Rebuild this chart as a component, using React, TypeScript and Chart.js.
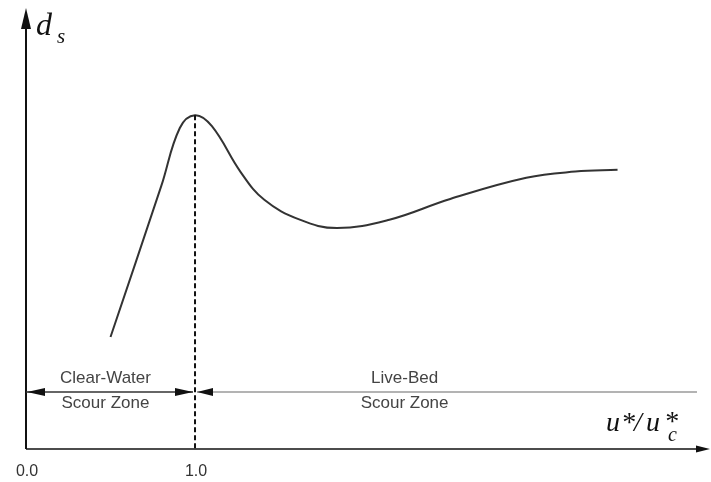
import React, { useEffect, useRef } from "react";
import { Chart, registerables } from "chart.js";

Chart.register(...registerables);

// Curve: scour depth d_s versus u*/u*c
const curveX = [0.5, 0.8, 0.91, 1.0, 1.1, 1.27, 1.41, 1.62, 1.84, 2.15, 2.51, 2.96, 3.25, 3.5];
const curveY = [2.54, 5.96, 7.28, 7.57, 7.32, 6.28, 5.65, 5.2, 5.01, 5.2, 5.67, 6.15, 6.29, 6.33];

// Axis ticks
const tickValues = [0, 1];
const tickLabels = ["0.0", "1.0"];

// Zones
const zoneBoundaryX = 1.0;
const zonePeakY = 7.57;
const zoneLineY = 1.29;
const zoneLineEndX = 3.97;
const zoneNames = [
  ["Clear-Water", "Scour Zone"],
  ["Live-Bed", "Scour Zone"],
];
const zoneLabelX = [0.47, 2.24];

const X_MAX = 4.047;
const Y_MAX = 10;

function arrowHead(ctx: CanvasRenderingContext2D, tipX: number, tipY: number, dir: string, len: number, half: number) {
  ctx.beginPath();
  ctx.moveTo(tipX, tipY);
  if (dir === "up") {
    ctx.lineTo(tipX - half, tipY + len);
    ctx.lineTo(tipX + half, tipY + len);
  } else if (dir === "right") {
    ctx.lineTo(tipX - len, tipY - half);
    ctx.lineTo(tipX - len, tipY + half);
  } else {
    ctx.lineTo(tipX + len, tipY - half);
    ctx.lineTo(tipX + len, tipY + half);
  }
  ctx.closePath();
  ctx.fill();
}

const SERIF = "'Liberation Serif', 'Times New Roman', serif";
const SANS = "'Liberation Sans', Arial, sans-serif";

const decorPlugin = {
  id: "decor",
  afterDatasetsDraw(chart: any) {
    const ctx: CanvasRenderingContext2D = chart.ctx;
    const xs = chart.scales.x;
    const ys = chart.scales.y;
    const x0 = xs.getPixelForValue(0);
    const y0 = ys.getPixelForValue(0);
    const yTop = ys.getPixelForValue(Y_MAX);
    const xRight = xs.getPixelForValue(X_MAX);
    ctx.save();
    ctx.fillStyle = "#111";
    ctx.strokeStyle = "#111";

    // y axis
    ctx.lineWidth = 2;
    ctx.beginPath();
    ctx.moveTo(x0, y0);
    ctx.lineTo(x0, yTop + 14);
    ctx.stroke();
    arrowHead(ctx, x0, yTop, "up", 21, 5);

    // x axis
    ctx.lineWidth = 1.6;
    ctx.beginPath();
    ctx.moveTo(x0, y0);
    ctx.lineTo(xRight - 10, y0);
    ctx.stroke();
    arrowHead(ctx, xRight, y0, "right", 14, 3.5);

    // dashed boundary line at u*/u*c = 1
    const bx = xs.getPixelForValue(zoneBoundaryX);
    const peakY = ys.getPixelForValue(zonePeakY);
    ctx.setLineDash([5, 3]);
    ctx.lineWidth = 2;
    ctx.beginPath();
    ctx.moveTo(bx, peakY);
    ctx.lineTo(bx, y0);
    ctx.stroke();
    ctx.setLineDash([]);

    // zone line with arrows
    const zy = ys.getPixelForValue(zoneLineY);
    const zEnd = xs.getPixelForValue(zoneLineEndX);
    ctx.lineWidth = 1.5;
    ctx.strokeStyle = "#333";
    ctx.beginPath();
    ctx.moveTo(x0, zy);
    ctx.lineTo(bx - 2, zy);
    ctx.stroke();
    ctx.strokeStyle = "#9a9a9a";
    ctx.beginPath();
    ctx.moveTo(bx + 2, zy);
    ctx.lineTo(zEnd, zy);
    ctx.stroke();
    ctx.fillStyle = "#111";
    arrowHead(ctx, x0 + 1, zy, "left", 18, 4);
    arrowHead(ctx, bx - 2, zy, "right", 18, 4);
    arrowHead(ctx, bx + 2, zy, "left", 16, 4);

    // zone labels
    ctx.fillStyle = "#444";
    ctx.font = "17px " + SANS;
    ctx.textAlign = "center";
    ctx.textBaseline = "middle";
    zoneNames.forEach((lines, i) => {
      const lx = xs.getPixelForValue(zoneLabelX[i]);
      ctx.fillText(lines[0], lx, zy - 14);
      ctx.fillText(lines[1], lx, zy + 11);
    });

    // tick labels
    ctx.fillStyle = "#333";
    ctx.font = "16px " + SANS;
    tickValues.forEach((v, i) => {
      ctx.fillText(tickLabels[i], xs.getPixelForValue(v) + 1, y0 + 23);
    });

    // axis titles
    ctx.fillStyle = "#111";
    ctx.textAlign = "left";
    ctx.textBaseline = "alphabetic";
    ctx.font = "italic 32px " + SERIF;
    ctx.fillText("d", x0 + 10, yTop + 27);
    ctx.font = "italic 21px " + SERIF;
    ctx.fillText("s", x0 + 31, yTop + 35);

    ctx.font = "italic 28px " + SERIF;
    const base = y0 - 18;
    ctx.fillText("u", 606, base);
    ctx.fillText("*", 621, base);
    ctx.fillText("/", 634, base);
    ctx.fillText("u", 646, base);
    ctx.fillText("*", 664, base - 1);
    ctx.font = "italic 20px " + SERIF;
    ctx.fillText("c", 668, base + 10);
    ctx.restore();
  },
};

export default function App() {
  const ref = useRef<HTMLCanvasElement>(null);
  useEffect(() => {
    if (!ref.current) return;
    const chart = new Chart(ref.current, {
      type: "line",
      data: {
        datasets: [
          {
            data: curveX.map((x, i) => ({ x, y: curveY[i] })),
            borderColor: "#333",
            borderWidth: 2,
            pointRadius: 0,
            tension: 0.4,
            fill: false,
          },
        ],
      },
      options: {
        animation: false,
        responsive: false,
        layout: { padding: { left: 26, right: 1, top: 8, bottom: 33 } },
        plugins: { legend: { display: false }, tooltip: { enabled: false } },
        scales: {
          x: { type: "linear", min: 0, max: X_MAX, display: false },
          y: { type: "linear", min: 0, max: Y_MAX, display: false },
        },
      },
      plugins: [decorPlugin],
    });
    return () => chart.destroy();
  }, []);
  return (
    <div style={{ position: "absolute", left: 0, top: 0, width: 711, height: 482, background: "#fff" }}>
      <canvas ref={ref} width={711} height={482} />
    </div>
  );
}
